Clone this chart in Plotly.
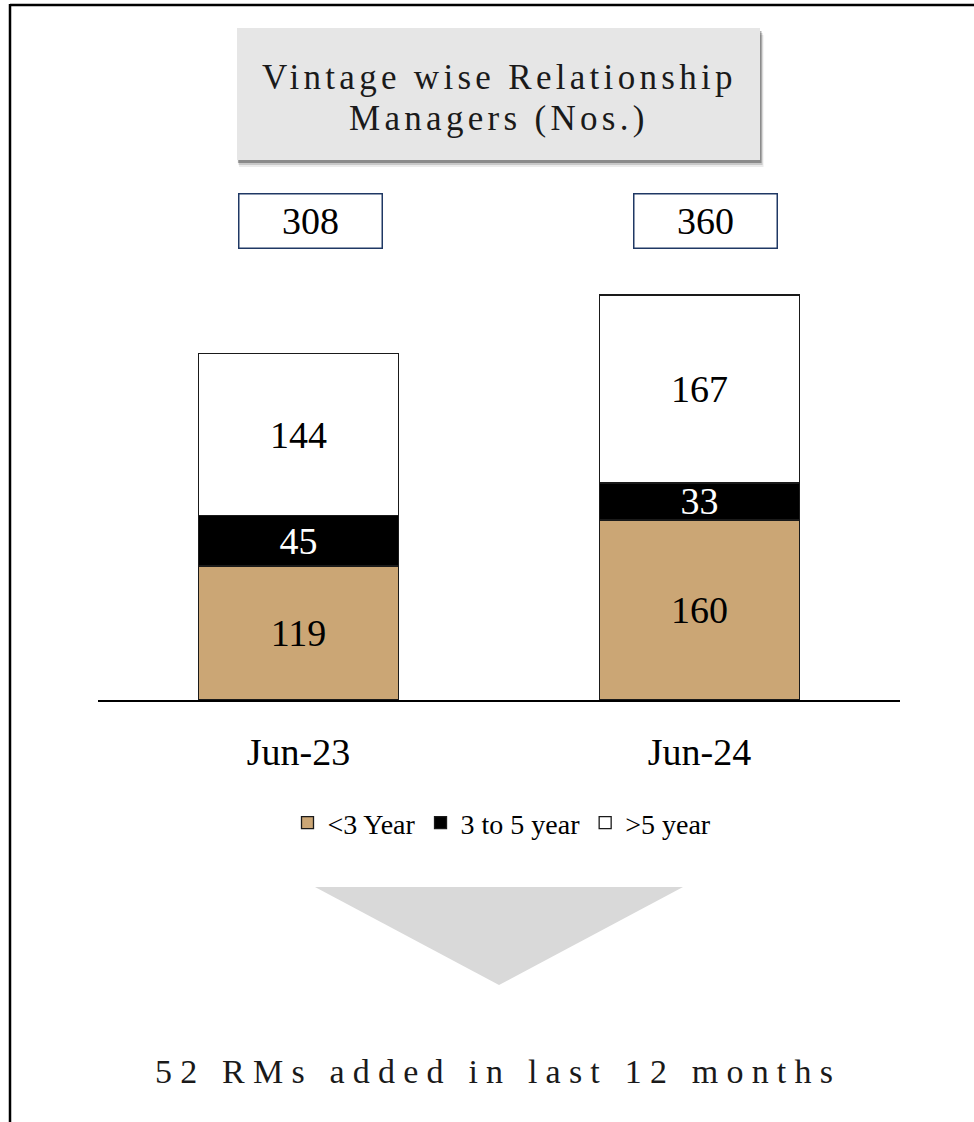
import plotly.graph_objects as go

periods = ["Jun-23", "Jun-24"]
lt3 = [119, 160]
y3to5 = [45, 33]
gt5 = [144, 167]
series_names = ["<3 Year", "3 to 5 year", ">5 year"]
title_lines = ["Vintage wise Relationship", "Managers (Nos.)"]
footer = "52 RMs added in last 12 months"

totals = [a + b + c for a, b, c in zip(lt3, y3to5, gt5)]

SERIF = "Liberation Serif, Times New Roman, serif"
TAN = "#CBA675"

fig = go.Figure()
for name, vals, col, tcol in [
    (series_names[0], lt3, TAN, "black"),
    (series_names[1], y3to5, "#000000", "white"),
    (series_names[2], gt5, "#FFFFFF", "black"),
]:
    fig.add_bar(
        x=periods, y=vals, name=name,
        marker=dict(color=col, line=dict(color="#1a1a1a", width=1.3)),
        text=vals, textposition="inside", insidetextanchor="middle",
        textangle=0,
        textfont=dict(family=SERIF, size=38, color=tcol),
        hoverinfo="skip",
    )

# paper-coordinate helpers (plot area: x 98..900 px, y 250..700 px)
def px(x):
    return (x - 98) / 802.0

def py(y):
    return (700 - y) / 450.0

shapes = []
# frame lines (top and left)
shapes.append(dict(type="line", xref="paper", yref="paper", x0=px(10), x1=px(974), y0=py(5), y1=py(5),
                   line=dict(color="black", width=2.5)))
shapes.append(dict(type="line", xref="paper", yref="paper", x0=px(10), x1=px(10), y0=py(4), y1=py(1122),
                   line=dict(color="black", width=2.5)))
# title box shadow (soft)
for off, op in [(7, 0.08), (5, 0.15), (3, 0.3)]:
    shapes.append(dict(type="rect", xref="paper", yref="paper",
                       x0=px(237 + off * 0.3), x1=px(760 + off * 0.5), y0=py(160 + off), y1=py(28 + off),
                       fillcolor=f"rgba(0,0,0,{op})", line=dict(width=0)))
shapes.append(dict(type="rect", xref="paper", yref="paper", x0=px(237), x1=px(760), y0=py(160), y1=py(28),
                   fillcolor="#E6E6E6", line=dict(width=0)))
# down arrow triangle
shapes.append(dict(type="path", xref="paper", yref="paper",
                   path=f"M {px(315)},{py(887)} L {px(683)},{py(887)} L {px(499)},{py(985)} Z",
                   fillcolor="#D9D9D9", line=dict(width=0)))

annotations = []
for line, yc in zip(title_lines, [77, 118]):
    annotations.append(dict(
        xref="paper", yref="paper", x=px(499), y=py(yc), xanchor="center", yanchor="middle",
        showarrow=False,
        text=f'<span style="letter-spacing:4.3px">{line}</span>',
        font=dict(family=SERIF, size=35, color="#1a1a1a"), align="center",
    ))
for per, tot, xs in zip(periods, totals, [12, 6]):
    annotations.append(dict(
        x=per, xref="x", yref="paper", y=py(221), xshift=xs, xanchor="center", yanchor="middle",
        showarrow=False,
        text=str(tot), font=dict(family=SERIF, size=38, color="black"),
        bordercolor="#1F3864", borderwidth=1.5, borderpad=0, width=142, height=53,
        bgcolor="white",
    ))
annotations.append(dict(
    xref="paper", yref="paper", x=px(498), y=py(1071), xanchor="center", yanchor="middle",
    showarrow=False,
    text=f'<span style="letter-spacing:8.2px">{footer}</span>',
    font=dict(family=SERIF, size=34, color="#1a1a1a"),
))

fig.update_layout(
    width=974, height=1122,
    margin=dict(l=98, r=74, t=250, b=422, autoexpand=False),
    paper_bgcolor="white", plot_bgcolor="white",
    barmode="stack", bargap=0.5,
    showlegend=True,
    legend=dict(orientation="h", x=px(502), xanchor="center", y=py(823), yanchor="middle",
                font=dict(family=SERIF, size=28, color="black"), traceorder="normal",
                bgcolor="rgba(0,0,0,0)", itemwidth=30),
    uniformtext=dict(minsize=38, mode="show"),
    xaxis=dict(range=[-0.5, 1.5], showline=True, linecolor="black", linewidth=1.8,
               ticks="", showgrid=False, zeroline=False,
               tickfont=dict(family=SERIF, size=38, color="black"), ticklabelstandoff=17),
    yaxis=dict(range=[0, 400], visible=False, showgrid=False, zeroline=False),
    shapes=shapes, annotations=annotations,
)

fig.write_html("out.html", config={"displayModeBar": False},
               post_script="document.body.style.margin='0';document.body.style.overflow='hidden';")
